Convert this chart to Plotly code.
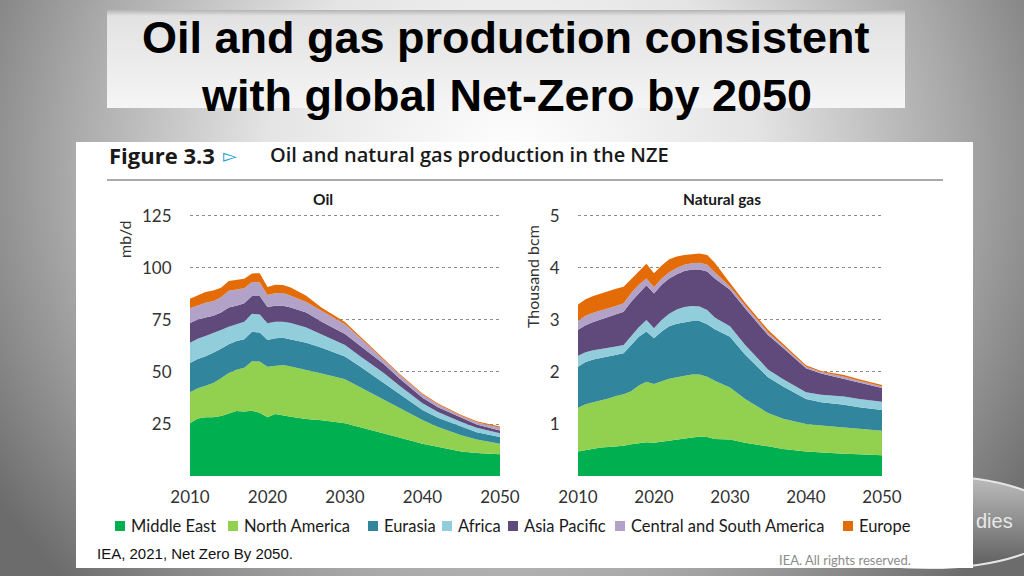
import base64
import plotly.graph_objects as go

# ---------------- data ----------------
regions = ["Middle East", "North America", "Eurasia", "Africa", "Asia Pacific",
           "Central and South America", "Europe"]
colors = ["#00b050", "#92d050", "#31859c", "#92cddc", "#604a7b", "#b3a2c7", "#e36c09"]

oil_years = [2010, 2011, 2012, 2013, 2014, 2015, 2016, 2017, 2018, 2019, 2020, 2021, 2022, 2023,
             2025, 2027, 2030, 2032, 2035, 2037, 2040, 2042, 2045, 2047, 2050]
oil_middle_east = [25.3, 27.7, 28.2, 28.2, 28.8, 30.0, 31.2, 31.0, 31.4, 30.4, 28.3, 29.8, 29.3, 28.5,
                   27.4, 26.8, 25.4, 23.5, 20.4, 18.5, 15.5, 14.0, 11.8, 11.0, 10.5]
oil_north_america = [15.0, 14.5, 15.2, 16.5, 18.2, 19.5, 19.9, 21.0, 23.8, 24.6, 24.2, 23.2, 24.1, 24.2,
                     23.7, 22.5, 21.1, 19.0, 16.2, 14.0, 11.4, 9.5, 7.8, 6.5, 5.0]
oil_eurasia = [14.0, 14.1, 14.2, 14.5, 14.2, 13.8, 13.8, 13.7, 14.1, 14.0, 12.9, 13.2, 13.1, 13.0,
               13.0, 12.4, 11.0, 10.0, 8.1, 7.0, 4.8, 4.5, 4.0, 3.5, 3.3]
oil_africa = [9.7, 9.7, 9.7, 9.4, 9.0, 8.5, 8.1, 8.4, 8.7, 8.6, 8.0, 7.9, 7.6, 7.8,
              7.3, 6.4, 5.5, 5.0, 4.8, 4.0, 3.3, 2.8, 2.4, 2.2, 1.8]
oil_asia_pacific = [9.6, 9.2, 8.9, 8.4, 8.4, 9.2, 8.9, 8.9, 8.5, 8.9, 7.8, 7.8, 7.8, 7.5,
                    7.2, 6.0, 5.3, 5.0, 4.3, 3.5, 2.6, 2.2, 1.9, 1.6, 1.3]
oil_cs_america = [7.0, 6.7, 7.1, 7.0, 7.3, 8.0, 7.7, 7.3, 6.8, 6.5, 5.8, 6.0, 6.1, 5.7,
                  5.0, 5.1, 4.7, 3.7, 2.0, 1.8, 1.6, 1.4, 0.9, 1.0, 1.3]
oil_europe = [4.6, 4.8, 5.2, 5.2, 4.6, 4.8, 4.7, 4.5, 4.1, 4.5, 3.8, 4.1, 3.8, 3.9,
              3.0, 1.7, 1.0, 0.8, 0.6, 0.5, 0.5, 0.5, 0.5, 0.5, 0.6]

gas_years = [2010, 2011, 2012, 2013, 2014, 2015, 2016, 2017, 2018, 2019, 2020, 2021, 2022, 2023,
             2024, 2025, 2026, 2027, 2028, 2030, 2032, 2035, 2037, 2040, 2042, 2045, 2047, 2050]
gas_middle_east = [0.47, 0.50, 0.53, 0.55, 0.56, 0.57, 0.58, 0.61, 0.63, 0.65, 0.64, 0.66, 0.67, 0.69,
                   0.71, 0.74, 0.76, 0.75, 0.71, 0.70, 0.64, 0.57, 0.52, 0.47, 0.45, 0.43, 0.42, 0.40]
gas_north_america = [0.84, 0.88, 0.89, 0.90, 0.93, 0.97, 0.99, 1.02, 1.11, 1.16, 1.13, 1.16, 1.20, 1.21,
                     1.22, 1.21, 1.19, 1.16, 1.12, 1.00, 0.84, 0.64, 0.58, 0.53, 0.52, 0.51, 0.49, 0.47]
gas_eurasia = [0.79, 0.81, 0.82, 0.82, 0.80, 0.79, 0.79, 0.89, 0.94, 0.97, 0.88, 0.96, 1.01, 1.03,
               1.03, 1.03, 1.03, 1.01, 0.99, 0.98, 0.85, 0.69, 0.62, 0.48, 0.45, 0.43, 0.41, 0.40]
gas_africa = [0.21, 0.19, 0.18, 0.17, 0.17, 0.16, 0.16, 0.18, 0.18, 0.22, 0.19, 0.22, 0.24, 0.27,
              0.29, 0.29, 0.28, 0.27, 0.23, 0.20, 0.19, 0.15, 0.14, 0.13, 0.14, 0.16, 0.16, 0.16]
gas_asia_pacific = [0.50, 0.52, 0.54, 0.57, 0.60, 0.62, 0.64, 0.65, 0.66, 0.67, 0.67, 0.68, 0.68, 0.68,
                    0.69, 0.70, 0.71, 0.74, 0.75, 0.70, 0.70, 0.66, 0.60, 0.46, 0.41, 0.34, 0.32, 0.26]
gas_cs_america = [0.17, 0.18, 0.18, 0.17, 0.16, 0.16, 0.16, 0.17, 0.16, 0.13, 0.12, 0.12, 0.12, 0.12,
                  0.12, 0.12, 0.13, 0.13, 0.12, 0.06, 0.06, 0.05, 0.04, 0.03, 0.03, 0.04, 0.03, 0.03]
gas_europe = [0.32, 0.32, 0.32, 0.33, 0.34, 0.33, 0.32, 0.26, 0.25, 0.28, 0.27, 0.25, 0.25, 0.22,
              0.19, 0.18, 0.18, 0.19, 0.18, 0.07, 0.05, 0.05, 0.04, 0.03, 0.02, 0.03, 0.03, 0.03]

oil_series = [oil_middle_east, oil_north_america, oil_eurasia, oil_africa,
              oil_asia_pacific, oil_cs_america, oil_europe]
gas_series = [gas_middle_east, gas_north_america, gas_eurasia, gas_africa,
              gas_asia_pacific, gas_cs_america, gas_europe]

x_ticks = [2010, 2020, 2030, 2040, 2050]
oil_ticks = [25, 50, 75, 100, 125]
gas_ticks = [1, 2, 3, 4, 5]

# ---------------- layout helpers ----------------
W, H = 1024, 576
def fx(px):
    return px / W
def fy(py):
    return 1 - py / H

TICK_FONT = dict(family="Lato, Open Sans, sans-serif", size=17, color="#333333")

# slide background (decorative) as SVG
svg = """<svg xmlns="http://www.w3.org/2000/svg" width="1024" height="576" viewBox="0 0 1024 576" preserveAspectRatio="none">
<defs>
<radialGradient id="bg" cx="512" cy="170" r="620" gradientUnits="userSpaceOnUse"
 gradientTransform="translate(512 170) scale(1 0.95) translate(-512 -170)">
<stop offset="0" stop-color="#ffffff"/>
<stop offset="0.40" stop-color="#e4e4e4"/>
<stop offset="0.72" stop-color="#a8a8a8"/>
<stop offset="1" stop-color="#6c6c6c"/>
</radialGradient>
<linearGradient id="tb" x1="0" y1="0" x2="0" y2="1">
<stop offset="0" stop-color="#b4b4b4"/>
<stop offset="0.06" stop-color="#e2e2e2"/>
<stop offset="1" stop-color="#f5f5f5"/>
</linearGradient>
<linearGradient id="el" x1="0" y1="0" x2="0" y2="1">
<stop offset="0" stop-color="#bdbdbd"/>
<stop offset="0.5" stop-color="#8e8e8e"/>
<stop offset="1" stop-color="#5e5e5e"/>
</linearGradient>
</defs>
<rect width="1024" height="576" fill="url(#bg)"/>
<rect x="107" y="10" width="798" height="98" fill="url(#tb)"/>
<ellipse cx="930" cy="522" rx="130" ry="46" fill="url(#el)" stroke="#e6e6e6" stroke-width="2"/>
<rect x="76" y="142" width="897" height="426" fill="#ffffff"/>
</svg>"""
svg_uri = "data:image/svg+xml;base64," + base64.b64encode(svg.encode()).decode()

fig = go.Figure()

for name, color, vals in zip(regions, colors, oil_series):
    fig.add_trace(go.Scatter(x=oil_years, y=vals, name=name, stackgroup="oil",
                             mode="lines", line=dict(width=0, color=color),
                             fillcolor=color, xaxis="x", yaxis="y", showlegend=False))
for name, color, vals in zip(regions, colors, gas_series):
    fig.add_trace(go.Scatter(x=gas_years, y=vals, name=name, stackgroup="gas",
                             mode="lines", line=dict(width=0, color=color),
                             fillcolor=color, xaxis="x2", yaxis="y2", showlegend=False))

y_dom = [fy(476), fy(213.9)]
common_x = dict(showgrid=False, zeroline=False, showline=False, ticks="outside",
                ticklen=6, tickcolor="rgba(0,0,0,0)", tickfont=TICK_FONT,
                tickvals=x_ticks, range=[2010, 2050], fixedrange=True, automargin=False)
common_y = dict(showgrid=True, gridcolor="#8c8c8c", griddash="dot", gridwidth=1.3,
                zeroline=False, showline=False, ticks="outside", ticklen=14,
                tickcolor="rgba(0,0,0,0)", tickfont=TICK_FONT, domain=y_dom,
                fixedrange=True, automargin=False)

annotations = []
def ann(text, x, y, size, color="#1a1a1a", family="Lato, sans-serif", xanchor="center",
        weight="normal", angle=0):
    annotations.append(dict(text=text, x=fx(x), y=fy(y), xref="paper", yref="paper",
                            xanchor=xanchor, yanchor="middle", showarrow=False,
                            textangle=angle,
                            font=dict(family=family, size=size, color=color, weight=weight)))

# slide title
TITLE_FONT = "Liberation Sans Narrow, Arial Narrow, Liberation Sans, Arial, sans-serif"
ann("Oil and gas production consistent", 506, 38, 45, color="#000000",
    family=TITLE_FONT, weight="bold")
ann("with global Net-Zero by 2050", 506, 95, 45, color="#000000",
    family=TITLE_FONT, weight="bold")

# figure header
ann("Figure 3.3", 107, 155, 22, color="#1a1a1a", family="Open Sans, sans-serif",
    xanchor="left", weight="bold")
ann("\u25bb", 221, 156, 18, color="#2aa0d4", family="DejaVu Sans, sans-serif", xanchor="left")
ann("Oil and natural gas production in the NZE", 268, 154, 20, color="#1a1a1a",
    family="Open Sans, sans-serif", xanchor="left", weight=600)

# panel titles and axis titles
ann("Oil", 323, 199, 15.5, weight="bold")
ann("Natural gas", 722, 199, 15.5, weight="bold")
ann("mb/d", 124, 240, 16, color="#333333", angle=-90)
ann("Thousand bcm", 532, 277, 16, color="#333333", angle=-90)

# legend (colored squares + names)
legend_x = [115, 228, 368, 442, 508, 615, 843]
shapes = [dict(type="line", xref="paper", yref="paper", x0=fx(107), x1=fx(943),
               y0=fy(180), y1=fy(180), line=dict(color="#8c8c8c", width=1.5))]
for name, color, lx in zip(regions, colors, legend_x):
    shapes.append(dict(type="rect", xref="paper", yref="paper", x0=fx(lx), x1=fx(lx + 10),
                       y0=fy(531), y1=fy(521), fillcolor=color, line=dict(width=0)))
    ann(name, lx + 14, 526, 16.5, color="#1a1a1a", xanchor="left")

# source notes
ann("IEA, 2021, Net Zero By 2050.", 95, 553, 15, color="#111111",
    family="Liberation Sans Narrow, Liberation Sans, Arial, sans-serif", xanchor="left")
ann("IEA. All rights reserved.", 913, 560, 13, color="#8c8c8c", xanchor="right")
# slide decoration text partially hidden behind the figure
ann("dies", 974, 521, 20, color="#e8e8e8", family="Liberation Sans, sans-serif", xanchor="left")

fig.update_layout(
    width=W, height=H, margin=dict(l=0, r=0, t=0, b=0, pad=0, autoexpand=False),
    paper_bgcolor="#c8c8c8", plot_bgcolor="rgba(0,0,0,0)",
    xaxis=dict(domain=[fx(190), fx(500)], anchor="y", **common_x),
    yaxis=dict(range=[0, 126], tickvals=oil_ticks, anchor="x", **common_y),
    xaxis2=dict(domain=[fx(578), fx(882)], anchor="y2", **common_x),
    yaxis2=dict(range=[0, 5.04], tickvals=gas_ticks, anchor="x2", **common_y),
    images=[dict(source=svg_uri, xref="paper", yref="paper", x=0, y=1, sizex=1, sizey=1,
                 xanchor="left", yanchor="top", sizing="stretch", layer="below")],
    shapes=shapes,
    annotations=annotations,
    showlegend=False,
)

fig.write_html("out.html", config={"displayModeBar": False},
               post_script="document.body.style.margin='0';document.body.style.overflow='hidden';")
